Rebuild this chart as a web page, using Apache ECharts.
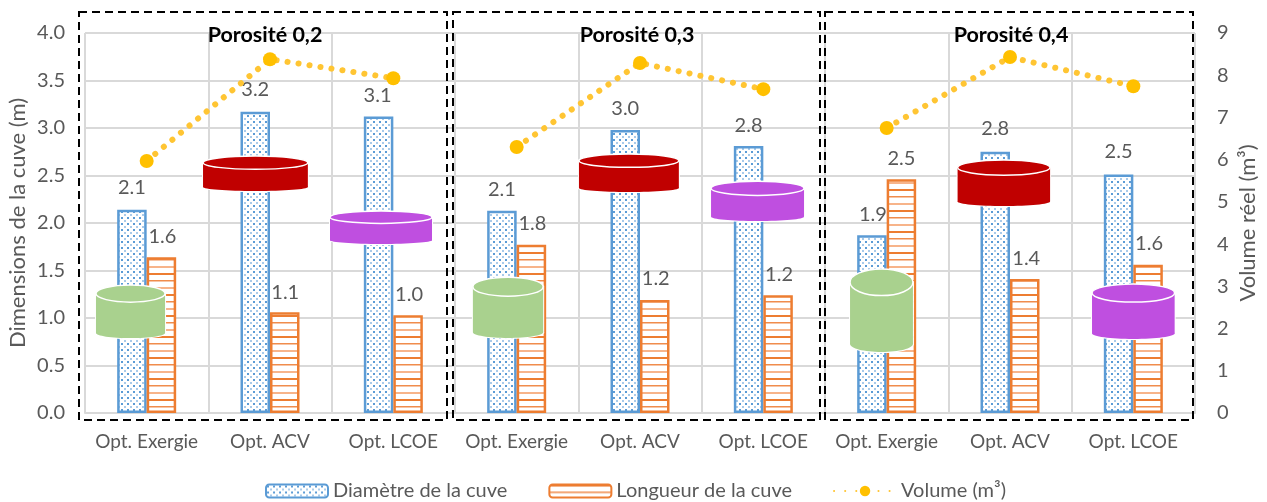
<!DOCTYPE html>
<html><head><meta charset="utf-8">
<style>html,body{margin:0;padding:0;background:#fff}#c{width:1267px;height:502px}</style>
<script src="https://cdn.jsdelivr.net/npm/echarts@6/dist/echarts.min.js"></script>
</head><body><div id="c"></div>
<script>
const categories=['Opt. Exergie','Opt. ACV','Opt. LCOE','Opt. Exergie','Opt. ACV','Opt. LCOE','Opt. Exergie','Opt. ACV','Opt. LCOE'];
const panelTitles=['Porosité 0,2','Porosité 0,3','Porosité 0,4'];
const panelTitleCentres=[260,632,1006];
const diametre=[2.14,3.17,3.12,2.13,2.98,2.81,1.87,2.75,2.51];
const longueur=[1.64,1.06,1.03,1.77,1.19,1.24,2.46,1.41,1.56];
const volume=[5.97,8.38,7.93,6.3,8.29,7.67,6.75,8.43,7.74];
// cylinders, in axis units
const cylCategory=[0,1,2,3,4,5,6,7,8];
const cylShift=[-0.131,-0.118,-0.10,-0.07,-0.09,-0.047,-0.042,-0.05,0];
const cylWidth=[0.56,0.85,0.827,0.57,0.81,0.754,0.51,0.75,0.67];
const cylTop=[1.347,2.705,2.126,1.43,2.726,2.44,1.516,2.663,1.358];
const cylBottom=[0.789,2.337,1.779,0.79,2.326,2.02,0.642,2.179,0.779];
const cylCap=[0.18,0.14,0.13,0.2,0.14,0.15,0.28,0.16,0.19];
const cylColor=['#A9D18E','#C00000','#BF4FE0','#A9D18E','#C00000','#BF4FE0','#A9D18E','#C00000','#BF4FE0'];
// data label displacement (px)
const diaLabelShift=[[0,-7],[0,-7],[-1,-6],[0,-6],[0,-6],[0,-6],[1,-6],[0,-8],[0,-8]];
const lenLabelShift=[[1,-6],[0.5,-5],[1,-6],[1,-6],[1,-6],[1,-6],[0,-6],[1.5,-6],[1,-6]];

function dotPattern(){
  const c=document.createElement('canvas');c.width=6;c.height=6;const g=c.getContext('2d');
  g.fillStyle='#fff';g.fillRect(0,0,6,6);
  g.fillStyle='#5B9BD5';g.fillRect(1,1,2,2);
  g.fillStyle='#A9CBEA';g.fillRect(4,4,2,2);
  return {image:c,repeat:'repeat'};
}
function linePattern(){
  const c=document.createElement('canvas');c.width=4;c.height=21;const g=c.getContext('2d');
  g.fillStyle='#fff';g.fillRect(0,0,4,21);
  g.fillStyle='#ED7D31';g.fillRect(0,0,4,2);
  g.fillStyle='#F08C4C';g.fillRect(0,7,4,1.5);
  g.fillStyle='#F7B48A';g.fillRect(0,14,4,2);
  return {image:c,repeat:'repeat'};
}
const F='Lato, sans-serif',GR='#595959';
const labelStyle={show:true,position:'top',color:GR,fontFamily:F,fontSize:20,distance:5,formatter:p=>p.value.toFixed(1)};
function barData(vals,shift){return vals.map((v,i)=>({value:v,label:{offset:shift[i]}}));}
function volSeg(k){return volume.map((v,i)=>Math.floor(i/3)===k?v:'-');}
const volSeries=[0,1,2].map(k=>({
  name:'Volume (m³)',type:'line',yAxisIndex:1,data:volSeg(k),z:6,symbol:'circle',symbolSize:14,
  lineStyle:{color:'#FFC533',width:6,type:[0.1,11],cap:'round'},itemStyle:{color:'#FFC000'},
  connectNulls:false,silent:true,animation:false}));
const chart=echarts.init(document.getElementById('c'),null,{renderer:'canvas'});
chart.setOption({
  animation:false,backgroundColor:'#fff',
  title:panelTitles.map((t,i)=>({text:t,left:panelTitleCentres[i],top:19,textAlign:'center',
    textStyle:{fontFamily:F,fontWeight:'bold',fontSize:21.5,color:'#000'}})),
  grid:{left:85,right:72,top:33,bottom:89,outerBoundsMode:'none'},
  legend:{left:260,top:476,itemWidth:62,itemHeight:13,itemGap:41,
    data:['Diamètre de la cuve','Longueur de la cuve','Volume (m³)'],
    textStyle:{fontFamily:F,fontSize:20,color:GR}},
  xAxis:{type:'category',data:categories,
    axisLine:{lineStyle:{color:'#D9D9D9',width:2}},axisTick:{show:false},
    axisLabel:{color:GR,fontFamily:F,fontSize:19,margin:19,interval:0},
    splitLine:{show:true,lineStyle:{color:'#D9D9D9',width:2}}},
  yAxis:[{type:'value',min:0,max:4,interval:0.5,name:'Dimensions de la cuve (m)',nameLocation:'middle',nameGap:56,nameRotate:90,nameMoveOverlap:false,
      nameTextStyle:{color:GR,fontFamily:F,fontSize:22},
      axisLine:{show:false},axisTick:{show:false},
      axisLabel:{color:GR,fontFamily:F,fontSize:20,margin:20,formatter:v=>v.toFixed(1)},
      splitLine:{show:true,lineStyle:{color:'#D9D9D9',width:2}}},
    {type:'value',min:0,max:9,interval:1,position:'right',name:'Volume réel (m³)',nameLocation:'middle',nameGap:42,nameRotate:90,nameMoveOverlap:false,
      nameTextStyle:{color:GR,fontFamily:F,fontSize:22},
      axisLine:{show:false},axisTick:{show:false},
      axisLabel:{color:GR,fontFamily:F,fontSize:20,margin:22},
      splitLine:{show:false}}],
  series:[
    {name:'Diamètre de la cuve',type:'bar',barWidth:29.5,barGap:'0%',data:barData(diametre,diaLabelShift),z:2,
      itemStyle:{color:dotPattern(),borderColor:'#5B9BD5',borderWidth:2.5},label:labelStyle},
    {name:'Longueur de la cuve',type:'bar',barWidth:29.5,barGap:'0%',data:barData(longueur,lenLabelShift),z:3,
      itemStyle:{color:linePattern(),borderColor:'#ED7D31',borderWidth:2.5},label:labelStyle},
    ...volSeries,
    {type:'custom',z:5,silent:true,data:cylCategory.map((c,i)=>[c,cylTop[i],cylBottom[i]]),
      encode:{x:0,y:[1,2]},
      renderItem(params,api){
        const i=params.dataIndex,band=api.size([1,0])[0],unit=api.size([0,1])[1];
        const cx=api.coord([cylCategory[i],0])[0]+cylShift[i]*band;
        const rx=cylWidth[i]*band/2,ry=cylCap[i]*unit/2,rb=ry*0.6;
        const yt=api.coord([0,cylTop[i]])[1]+ry,yb=api.coord([0,cylBottom[i]])[1]-rb;
        const col=cylColor[i];
        const halo={fill:'#fff',stroke:'#fff',lineWidth:2};
        return {type:'group',children:[
          {type:'ellipse',shape:{cx,cy:yb,rx,ry:rb},style:halo},
          {type:'rect',shape:{x:cx-rx,y:yt,width:2*rx,height:yb-yt},style:halo},
          {type:'ellipse',shape:{cx,cy:yb,rx,ry:rb},style:{fill:col}},
          {type:'rect',shape:{x:cx-rx,y:yt,width:2*rx,height:yb-yt},style:{fill:col}},
          {type:'ellipse',shape:{cx,cy:yt,rx,ry},style:{fill:col,stroke:'#fff',lineWidth:1.5}}
        ]};
      }}
  ],
  graphic:[[79,447],[453,820],[825,1193]].map(p=>({type:'rect',z:10,silent:true,
    shape:{x:p[0],y:12,width:p[1]-p[0],height:408},
    style:{fill:'none',stroke:'#000',lineWidth:2,lineDash:[8,5]}}))
});
</script></body></html>
